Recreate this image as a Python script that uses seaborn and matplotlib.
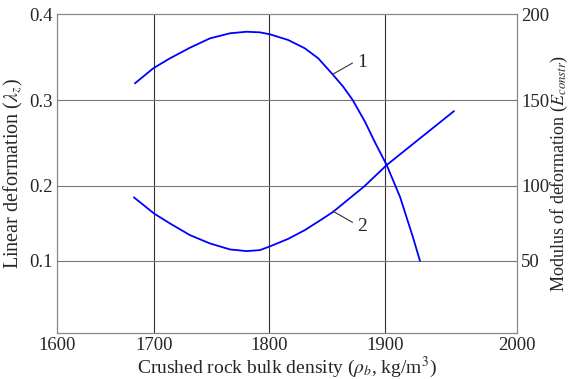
import numpy as np
import pandas as pd
import matplotlib
matplotlib.use("Agg")
import matplotlib.pyplot as plt
import seaborn as sns

# ---- data ----
curve1_x = [1680.4, 1699.3, 1713.9, 1731.3, 1748.7, 1766.1, 1780.6, 1792.2, 1800.9, 1816.6,
            1831.0, 1842.5, 1855.4, 1864.0, 1872.2, 1882.8, 1891.4, 1901.3, 1911.4, 1921.4, 1926.5]
curve1_y = [0.3194, 0.3369, 0.3485, 0.3608, 0.3717, 0.3776, 0.3794, 0.3787, 0.3764, 0.3698,
            0.3601, 0.3485, 0.3291, 0.3155, 0.3000, 0.2746, 0.2505, 0.2240, 0.1850, 0.1300, 0.0997]
curve2_x = [1679.4, 1700.0, 1713.9, 1731.3, 1748.7, 1766.1, 1780.6, 1792.2, 1800.9, 1816.6,
            1831.0, 1845.4, 1855.4, 1868.4, 1882.2, 1901.3, 1926.5, 1952.3]
curve2_y = [0.1843, 0.1629, 0.1496, 0.1340, 0.1229, 0.1149, 0.1127, 0.1140, 0.1190, 0.1290,
            0.1407, 0.1549, 0.1651, 0.1816, 0.1990, 0.2240, 0.2552, 0.2871]
x_ticks = [1600, 1700, 1800, 1900, 2000]
left_ticks = [0.1, 0.2, 0.3, 0.4]
right_ticks = [50, 100, 150, 200]
labels = ["1", "2"]

# non-uniform grid spacing as drawn in the original figure
x_breaks = [1600, 1700, 1800, 1900, 2000]
x_screen = [0, 97, 212, 328, 460]
y_breaks = [0.0, 0.1, 0.2, 0.3, 0.4]
y_screen = [0, 72.5, 147.5, 233, 319]

def fx(v):
    return np.interp(v, x_breaks, x_screen, left=-1e3, right=1e4)
def ix(v):
    return np.interp(v, x_screen, x_breaks)
def fy(v):
    return np.interp(v, y_breaks, y_screen)
def iy(v):
    return np.interp(v, y_screen, y_breaks)

sns.set_style("white")
plt.rcParams["font.family"] = ["Liberation Serif", "DejaVu Serif"]
plt.rcParams["mathtext.fontset"] = "stix"

df = pd.concat([
    pd.DataFrame({"x": curve1_x, "y": curve1_y, "c": "1"}),
    pd.DataFrame({"x": curve2_x, "y": curve2_y, "c": "2"}),
])

fig = plt.figure(figsize=(5.69, 3.79), dpi=100)
ax = fig.add_axes([0.100, 0.121, 0.8086, 0.842])
ax.set_xscale("function", functions=(fx, ix))
ax.set_yscale("function", functions=(fy, iy))

sns.lineplot(data=df, x="x", y="y", units="c", estimator=None, sort=False,
             color="#0000ff", linewidth=1.3, ax=ax, legend=False)

ax.set_xlim(1600, 2000)
ax.set_ylim(0, 0.4)
ax.set_xticks(x_ticks)
ax.set_xticklabels([str(t) for t in x_ticks])
ax.set_yticks(left_ticks)
ax.set_yticklabels(["0.1", "0.2", "0.3", "0.4"])
ax.tick_params(length=0, labelsize=13.5, pad=3)
ax.grid(False)
for t in x_ticks[1:-1]:
    ax.axvline(t, color="#333333", lw=0.8, zorder=0)
for t in left_ticks[:-1]:
    ax.axhline(t, color="#777777", lw=0.8, zorder=0)
for s in ax.spines.values():
    s.set_color("#888888")
    s.set_linewidth(0.9)

ax.set_xlabel(r"Crushed rock bulk density ($\rho_b$, kg/m$^3$)", fontsize=14, labelpad=0)
ax.set_ylabel(r"Linear deformation ($\lambda_z$)", fontsize=14.5, labelpad=3)

ax2 = ax.twinx()
ax2.set_yscale("function", functions=(lambda v: fy(v / 500.0), lambda v: iy(v) * 500.0))
ax2.set_ylim(0, 200)
ax2.set_yticks(right_ticks)
ax2.set_yticklabels([str(t) for t in right_ticks])
ax2.tick_params(length=0, labelsize=13.5, pad=3)
for s in ax2.spines.values():
    s.set_visible(False)
ax2.set_ylabel(r"Modulus of deformation ($E_{constr}$)", fontsize=13, labelpad=0)

# curve labels with leader lines
ax.plot([1855, 1872], [0.330, 0.343], color="#333333", lw=0.8)
ax.text(1876, 0.344, labels[0], fontsize=14, va="center", ha="left")
ax.plot([1855, 1872], [0.166, 0.151], color="#333333", lw=0.8)
ax.text(1876, 0.146, labels[1], fontsize=14, va="center", ha="left")

fig.savefig("out.png", dpi=100)
